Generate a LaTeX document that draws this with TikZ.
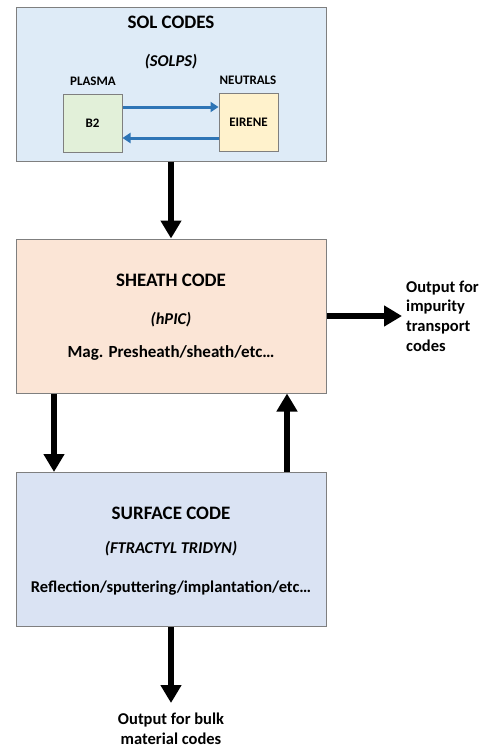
\documentclass[tikz,border=0pt]{standalone}
\usepackage{fontspec}
\setmainfont{Carlito}
\usetikzlibrary{arrows.meta}
\definecolor{solfill}{HTML}{DEEBF7}
\definecolor{sheathfill}{HTML}{FBE5D6}
\definecolor{surffill}{HTML}{DAE3F3}
\definecolor{bfill}{HTML}{E2F0D9}
\definecolor{efill}{HTML}{FFF2CC}
\definecolor{boxline}{HTML}{7F7F7F}
\definecolor{bluearrow}{HTML}{2E75B6}
\begin{document}
\begin{tikzpicture}[x=1pt,y=-1pt,
  bigbox/.style={draw=boxline,line width=1pt,minimum width=310pt,minimum height=154pt,inner sep=0pt},
  smallbox/.style={draw=boxline,line width=1pt,minimum width=59pt,minimum height=58pt,inner sep=0pt,font=\fontsize{13}{15}\selectfont\bfseries},
  lbl/.style={font=\fontsize{16.5}{19.7}\selectfont\bfseries,inner sep=0pt},
  ttl/.style={font=\fontsize{19}{22}\selectfont\bfseries,inner sep=0pt},
  small/.style={font=\fontsize{13}{15}\selectfont\bfseries,inner sep=0pt},
  bigarrow/.style={line width=6pt,-{Triangle[width=20pt,length=18pt]}},
  bluearr/.style={bluearrow,line width=3pt,-{Triangle[width=10pt,length=8pt]}}]
\useasboundingbox (0,0) rectangle (487,748);
\node[bigbox,fill=solfill] (sol) at (171,84) {};
\node[ttl] (soltitle) at (171,22) {SOL CODES};
\node[lbl] (solps) at (171,62) {\itshape (SOLPS)};
\node[small] (plasma) at (93,81) {PLASMA};
\node[small] (neutrals) at (248,80) {NEUTRALS};
\node[smallbox,fill=bfill] (b2) at (92.5,123) {B2};
\node[smallbox,fill=efill] (eirene) at (248.5,122.5) {EIRENE};
\draw[bluearr] (b2.east|-0,107) -- (eirene.west|-0,107);
\draw[bluearr] (eirene.west|-0,138) -- (b2.east|-0,138);

\node[bigbox,fill=sheathfill] (sheath) at (171,316) {};
\node[ttl] (shtitle) at (171,280) {SHEATH CODE};
\node[lbl] (hpic) at (171,320) {\itshape (hPIC)};
\node[lbl,font=\fontsize{17}{20}\selectfont\bfseries] (mag) at (171,353) {Mag. Presheath/sheath/etc…};

\node[bigbox,fill=surffill] (surf) at (171,549.5) {};
\node[ttl] (sutitle) at (171,513) {SURFACE CODE};
\node[lbl] (ftr) at (171,549) {\itshape (FTRACTYL TRIDYN)};
\node[lbl] (refl) at (171,588) {Reflection/sputtering/implantation/etc…};

\draw[bigarrow] (sol.south) -- (sheath.north);
\coordinate (outimp) at (402,316);
\draw[bigarrow] (sheath.east) -- (outimp);
\node[lbl,anchor=west,align=left] (imptext) at (406,316) {Output for\\impurity\\transport\\codes};
\draw[bigarrow] (sheath.south-|54,0) -- (surf.north-|54,0);
\draw[bigarrow] (surf.north-|287,0) -- (sheath.south-|287,0);
\coordinate (outbulk) at (171,703);
\draw[bigarrow] (surf.south) -- (outbulk);
\node[lbl,align=center] (bulktext) at (171,729) {Output for bulk\\material codes};
\end{tikzpicture}
\end{document}
